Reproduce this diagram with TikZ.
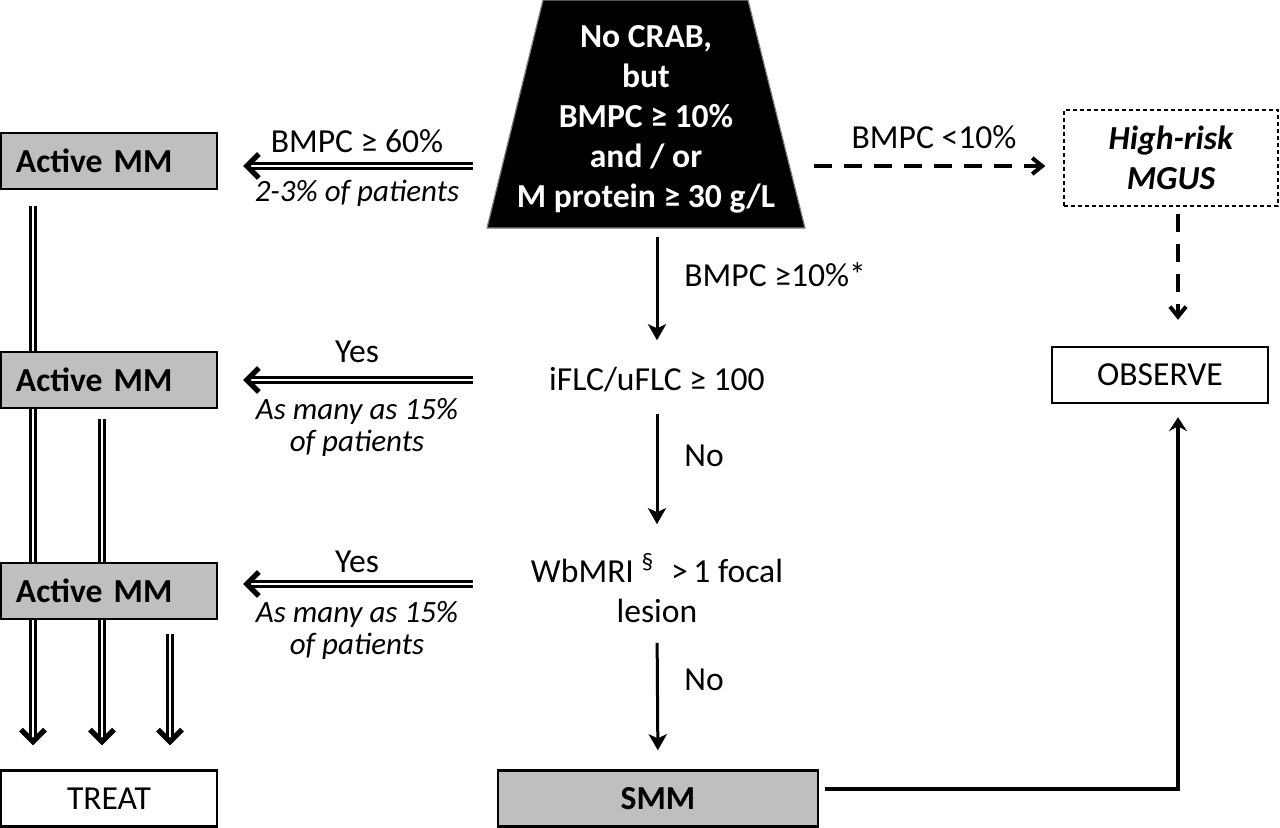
\documentclass[tikz,border=0pt]{standalone}
\usepackage{fontspec}
\setmainfont{Carlito}
\usetikzlibrary{arrows.meta,backgrounds,decorations.markings}
\definecolor{boxgray}{RGB}{191,191,191}
\tikzset{
  box/.style={draw=black, line width=1.2pt, minimum width=108pt, minimum height=28pt, inner sep=0pt},
  graybox/.style={box, fill=boxgray, font=\bfseries},
  lbl/.style={anchor=base, inner sep=0pt},
  note/.style={font=\itshape\fontsize{15.5}{16}\selectfont, align=center, inner sep=0pt},
  dblarr/.style={double, double distance=1.4pt, line width=1.2pt, shorten >=2pt,
    decoration={markings, mark=at position 1 with {\arrow{Straight Barb[length=6pt,width=12pt,line width=2.6pt]}}},
    postaction={decorate}},
  arr/.style={line width=1.5pt, -{Stealth[length=8pt,width=9pt,inset=2pt]}},
  dasharr/.style={line width=2pt, dash pattern=on 9pt off 6pt, -{Straight Barb[length=5pt,width=8pt]}},
}
\begin{document}
\fontsize{16.8}{20}\selectfont
\begin{tikzpicture}[x=0.5pt, y=-0.5pt]
\useasboundingbox (0,0) rectangle (1280,827);
% top trapezoid
\fill[black, draw=gray, line width=0.6pt] (543,0) -- (748,0) -- (805,228) -- (487,228) -- cycle;
\node[text=white, font=\bfseries, align=center, inner sep=0pt] (crab) at (646,119) {No CRAB,\\but\\BMPC ≥ 10\%\\and / or\\M protein ≥ 30 g/L};
\coordinate (crabS) at (657,237);
\coordinate (crabW) at (473,166);
\coordinate (crabE) at (814,166);
\coordinate (iflW) at (473,380);
\coordinate (wbW) at (473,584);

% boxes
\node[graybox, text width=93pt, inner xsep=7.5pt, align=left] (am1) at (109,161) {Active MM};
\node[graybox, text width=93pt, inner xsep=7.5pt, align=left] (am2) at (109,380) {Active MM};
\node[graybox, text width=93pt, inner xsep=7.5pt, align=left] (am3) at (109,591) {Active MM};
\node[box] (treat) at (109,798.5) {TREAT};
\node[graybox, minimum width=160pt] (smm) at (658,798.5) {SMM};
\node[box] (observe) at (1160,375) {OBSERVE};
\node[box, line width=0.6pt, dash pattern=on 2pt off 1.5pt, minimum width=107pt, minimum height=48pt,
  font=\bfseries\itshape, align=center] (mgus) at (1171,158) {High-risk\\MGUS};

% middle column
\node[lbl] (ifl) at (657,390) {iFLC/uFLC ≥ 100};
\node[align=center, inner sep=0pt] (wb) at (657,588) {WbMRI \textsuperscript{§}\enspace>\,1 focal\\lesion};
\node[lbl, anchor=base west] (gt10) at (684,286) {BMPC ≥10\%*};
\node[lbl, anchor=base west] (no1) at (684,466) {No};
\node[lbl, anchor=base west] (no2) at (684,690) {No};
\node[lbl] (lt10) at (934,148) {BMPC <10\%};

\draw[arr, shorten >=13pt] (crabS) -- (ifl.north);
\draw[arr, shorten <=11pt, shorten >=14.5pt] (ifl.south) -- (wb.north);
\draw[arr, shorten <=10pt, shorten >=9.5pt] (wb.south) -- (smm.north);

% left branch
\node[lbl] (l60) at (357,152) {BMPC ≥ 60\%};
\node[lbl, font=\itshape\fontsize{15.5}{16}\selectfont] (l23) at (357,201) {2-3\% of patients};
\node[lbl] (yes1) at (357,362) {Yes};
\node[note] (p15a) at (357,427) {As many as 15\%\\of patients};
\node[lbl] (yes2) at (357,572) {Yes};
\node[note] (p15b) at (357,630) {As many as 15\%\\of patients};

\draw[dblarr] (crabW) -- ([xshift=12.5pt]crabW -| am1.east);
\draw[dblarr] (iflW) -- ([xshift=12.5pt]iflW -| am2.east);
\draw[dblarr] (wbW) -- ([xshift=12.5pt]wbW -| am3.east);

\begin{scope}[on background layer]
\draw[dblarr] ([xshift=-38pt,yshift=-8pt]am1.south) -- ([xshift=-38pt,yshift=12pt]treat.north);
\draw[dblarr] ([xshift=-3.5pt,yshift=-5pt]am2.south) -- ([xshift=-3.5pt,yshift=12pt]treat.north);
\draw[dblarr] ([xshift=30.5pt,yshift=-7pt]am3.south) -- ([xshift=30.5pt,yshift=12pt]treat.north);
\end{scope}

% right branch
\draw[dasharr, shorten >=9pt] (crabE) -- (crabE -| mgus.west);
\draw[dasharr, shorten <=3.5pt, shorten >=13pt] ([xshift=3.5pt]mgus.south) -- ([xshift=9pt]observe.north);
\draw[line width=2pt, shorten >=6.5pt, -{Stealth[length=7pt,width=9pt,inset=2.5pt]}]
  ([xshift=3pt,yshift=4.75pt]smm.east) -| ([xshift=9pt]observe.south);
\end{tikzpicture}
\end{document}
